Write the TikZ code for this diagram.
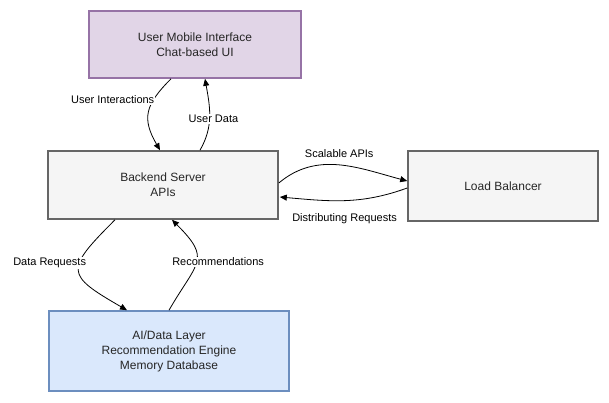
\documentclass[tikz,border=0pt]{standalone}
\usepackage{fontspec}
\setmainfont{Liberation Sans}
\usetikzlibrary{arrows.meta}

\begin{document}
\begin{tikzpicture}[x=1pt,y=-1pt]
  \tikzset{box/.style={draw,line width=1.6pt,align=center,inner sep=0pt,
                       font=\fontsize{12}{15}\selectfont,text=black!85},
           lbl/.style={fill=white,inner sep=1pt,font=\fontsize{11}{13}\selectfont},
           free/.style={inner sep=1pt,font=\fontsize{11}{13}\selectfont},
           flow/.style={-{Triangle[length=7pt,width=6pt]},line width=0.8pt}}
  \useasboundingbox (0,0) rectangle (609,402);
  \definecolor{uifill}{HTML}{E1D5E7}\definecolor{uiline}{HTML}{9673A6}
  \definecolor{bkfill}{HTML}{F5F5F5}\definecolor{bkline}{HTML}{666666}
  \definecolor{aifill}{HTML}{DAE8FC}\definecolor{ailine}{HTML}{6C8EBF}
  \node[box,fill=uifill,draw=uiline,minimum width=212pt,minimum height=67pt] (ui)
       at (195,44.5) {User Mobile Interface\\Chat-based UI};
  \node[box,fill=bkfill,draw=bkline,minimum width=230pt,minimum height=68pt] (backend)
       at (163,185) {Backend Server\\APIs};
  \node[box,fill=bkfill,draw=bkline,minimum width=190pt,minimum height=70pt] (lb)
       at (503,186) {Load Balancer};
  \node[box,fill=aifill,draw=ailine,minimum width=240pt,minimum height=80pt] (ai)
       at (169,351) {AI/Data Layer\\Recommendation Engine\\Memory Database};
% user side
  \draw[flow] ([xshift=-24pt]ui.south) to[out=225,in=120,looseness=1.3]
        node[lbl,pos=0.3,xshift=-41pt] {User Interactions} ([xshift=-3pt]backend.north);
  \draw[flow] ([xshift=37pt]backend.north) to[out=60,in=-80]
        node[lbl,pos=0.45,xshift=4pt] {User Data} ([xshift=10pt]ui.south);
% load balancer
  \draw[flow] ([yshift=2pt]backend.east) to[out=40,in=165]
        node[free,above=6pt] {Scalable APIs} ([yshift=5pt]lb.west);
  \draw[flow] ([yshift=-2pt]lb.west) to[out=200,in=-5]
        node[free,below=12pt] {Distributing Requests} ([xshift=1pt,yshift=-12pt]backend.east);
% data layer
  \draw[flow] ([xshift=-48pt]backend.south) to[out=225,in=150,looseness=2]
        node[lbl,pos=0.4,xshift=-30pt] {Data Requests} ([xshift=-42pt]ai.north);
  \draw[flow] (ai.north) to[out=60,in=-45,looseness=1.6]
        node[lbl,pos=0.5,xshift=22pt] {Recommendations} ([xshift=9pt]backend.south);
\end{tikzpicture}
\end{document}
